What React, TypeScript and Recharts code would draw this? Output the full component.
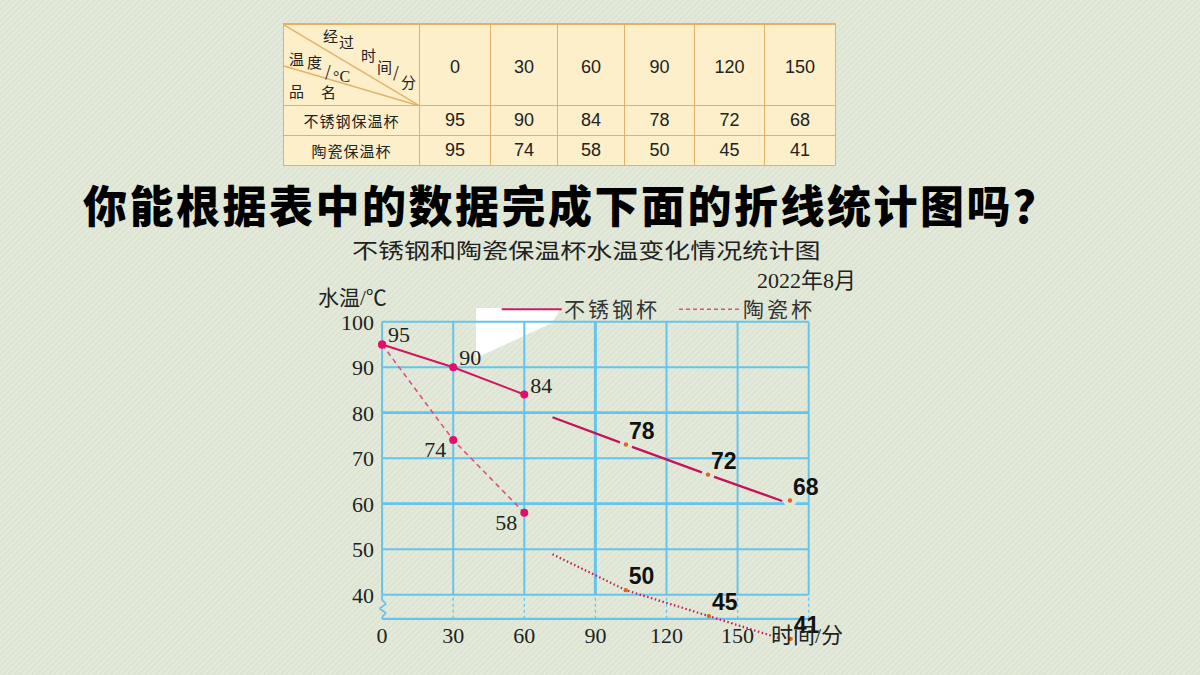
import React from 'react';
import { ComposedChart, Line, Scatter, XAxis, YAxis, ReferenceLine, LabelList } from 'recharts';

// table
const tableTimes = ['0', '30', '60', '90', '120', '150'];
const steelRow = [95, 90, 84, 78, 72, 68];
const ceramicRow = [95, 74, 58, 50, 45, 41];

// axes
const timeTicks = [0, 30, 60, 90, 120, 150];
const gridTimes = [0, 30, 60, 90, 120, 150, 180];
const tempTicks = [40, 50, 60, 70, 80, 90, 100];

// printed part of the chart
const steelX = [0, 30, 60];
const steelY = [95, 90, 84];
const ceramicX = [0, 30, 60];
const ceramicY = [95, 74, 58];

// hand-added continuation, positions
const steelLateLineX = [71.9, 102.9, 137.5, 168.8];
const steelLateLineY = [79.0, 73.0, 66.4, 60.6];
const steelLateDotX = [102.9, 137.5, 172.1];
const steelLateDotY = [73.0, 66.4, 60.7];
const steelLateLabels = ['78', '72', '68'];

const ceramicLateLineX = [71.9, 102.8, 137.9, 167.9];
const ceramicLateLineY = [48.9, 41.0, 35.3, 30.4];
const ceramicLateDotX = [102.8, 137.9, 172.4];
const ceramicLateDotY = [41.0, 35.3, 30.3];
const ceramicLateLabels = ['50', '45', '41'];

// broken axis
const axisBottom = 34.7;
const zigzagX = [0, 0, 1.65, -1.1, 1.65, 0, 0];
const zigzagY = [40, 38.84, 37.96, 36.97, 35.98, 35.1, axisBottom];

const zip = (xs: number[], ys: number[], labels?: string[]) =>
  xs.map((x, i) => ({ x, y: ys[i], label: labels ? labels[i] : '' }));

const steelData = zip(steelX, steelY);
const ceramicData = zip(ceramicX, ceramicY);
const steelLateLine = zip(steelLateLineX, steelLateLineY);
const steelLateDots = zip(steelLateDotX, steelLateDotY, steelLateLabels);
const ceramicLateLine = zip(ceramicLateLineX, ceramicLateLineY);
const ceramicLateDots = zip(ceramicLateDotX, ceramicLateDotY, ceramicLateLabels);

const BG = '#e1e8d7';
const GRID = '#66c4ec';
const SERIF = '"Liberation Serif", "Noto Sans CJK SC", serif';
const CJK = '"Noto Sans CJK SC", sans-serif';
const SANS = '"Liberation Sans", Arial, sans-serif';
const TABLE_LINE = '#e2b066';
const colWidths = [136, 71, 67, 67, 70, 70, 71];

function lateDot(ring: number) {
  return (props: any) => {
    const { cx, cy, payload } = props;
    return (
      <g>
        {ring > 0 && <circle cx={cx} cy={cy} r={ring} fill={BG} />}
        <circle cx={cx} cy={cy} r={2.2} fill="#e2621f" />
        <text x={cx + 3} y={cy - 6} fontFamily={SANS} fontWeight={700} fontSize={23} fill="#111">
          {payload.label}
        </text>
      </g>
    );
  };
}

function DataTable() {
  const cell: React.CSSProperties = {
    border: `1px solid ${TABLE_LINE}`,
    padding: 0,
    textAlign: 'center',
    verticalAlign: 'middle',
    fontFamily: SANS,
    fontSize: 18,
    color: '#222',
  };
  const nameCell: React.CSSProperties = { ...cell, fontFamily: CJK, fontSize: 15, letterSpacing: 1 };
  const head = { fontFamily: CJK, fontSize: 15, fill: '#222' };
  return (
    <table
      style={{
        position: 'absolute',
        left: 283,
        top: 23,
        borderCollapse: 'collapse',
        tableLayout: 'fixed',
        width: 552,
        background: '#fcefca',
        borderTop: `2px solid ${TABLE_LINE}`,
      }}
    >
      <colgroup>
        {colWidths.map((w, i) => (
          <col key={i} style={{ width: w }} />
        ))}
      </colgroup>
      <tbody>
        <tr style={{ height: 81 }}>
          <td style={{ ...cell, position: 'relative' }}>
            <svg width={136} height={81} style={{ position: 'absolute', left: 0, top: 0, display: 'block' }}>
              <line x1={0} y1={0} x2={136} y2={81} stroke={TABLE_LINE} strokeWidth={1.5} />
              <line x1={0} y1={41} x2={136} y2={81} stroke={TABLE_LINE} strokeWidth={1.5} />
              <text x={39} y={17} {...head}>经</text>
              <text x={55} y={23} {...head}>过</text>
              <text x={77} y={36} {...head}>时</text>
              <text x={93} y={48} {...head}>间</text>
              <text x={109} y={53} {...head}>/</text>
              <text x={117} y={63} {...head}>分</text>
              <text x={5} y={40} {...head}>温</text>
              <text x={23} y={43} {...head}>度</text>
              <text x={41} y={52} {...head}>/</text>
              <text x={49} y={57} fontFamily={SERIF} fontSize={16} fill="#222">°C</text>
              <text x={5} y={72} {...head}>品</text>
              <text x={37} y={73} {...head}>名</text>
            </svg>
          </td>
          {tableTimes.map((t) => (
            <td key={t} style={{ ...cell, paddingTop: 6 }}>{t}</td>
          ))}
        </tr>
        <tr style={{ height: 30 }}>
          <td style={nameCell}>不锈钢保温杯</td>
          {steelRow.map((v, i) => (
            <td key={i} style={cell}>{v}</td>
          ))}
        </tr>
        <tr style={{ height: 30 }}>
          <td style={nameCell}>陶瓷保温杯</td>
          {ceramicRow.map((v, i) => (
            <td key={i} style={cell}>{v}</td>
          ))}
        </tr>
      </tbody>
    </table>
  );
}

export default function App() {
  return (
    <div
      style={{
        position: 'absolute',
        left: 0,
        top: 0,
        width: 1200,
        height: 675,
        overflow: 'hidden',
        background: `repeating-linear-gradient(135deg, #e4eadb 0px, #e4eadb 2px, #dde5d2 2px, #dde5d2 4px)`,
      }}
    >
      <DataTable />

      {/* white patch left over on the slide */}
      <svg width={1200} height={675} style={{ position: 'absolute', left: 0, top: 0 }}>
        <polygon points="476,308 561,308 552,323 476,358" fill="#ffffff" />
      </svg>

      <div style={{ position: 'absolute', left: 300, top: 230 }}>
        <ComposedChart width={580} height={440} margin={{ top: 91.7, right: 71.3, bottom: 1.6, left: 32.1 }}>
          <XAxis
            dataKey="x"
            type="number"
            domain={[0, 180]}
            ticks={timeTicks}
            axisLine={false}
            tickLine={false}
            tickSize={0}
            tickMargin={0}
            height={10}
            interval={0}
            tick={(p: any) => (
              <text x={p.x} y={p.y - 15.4} textAnchor="middle" fontFamily={SERIF} fontSize={22} fill="#222">
                {p.payload.value}
              </text>
            )}
          />
          <YAxis
            dataKey="y"
            type="number"
            domain={[26, 100]}
            ticks={tempTicks}
            axisLine={false}
            tickLine={false}
            width={50}
            interval={0}
            tick={{ fontFamily: SERIF, fontSize: 22, fill: '#222' }}
          />

          {tempTicks.map((t) => (
            <ReferenceLine
              key={'h' + t}
              segment={[{ x: 0, y: t }, { x: 180, y: t }]}
              stroke={GRID}
              strokeWidth={t === 80 || t === 60 ? 2.8 : 2}
              ifOverflow="visible"
            />
          ))}
          {gridTimes.map((t) => (
            <ReferenceLine
              key={'v' + t}
              segment={[{ x: t, y: 40 }, { x: t, y: 100 }]}
              stroke={GRID}
              strokeWidth={t === 90 ? 3 : 2}
              ifOverflow="visible"
            />
          ))}
          {gridTimes.slice(1).map((t) => (
            <ReferenceLine
              key={'d' + t}
              segment={[{ x: t, y: axisBottom }, { x: t, y: 40 }]}
              stroke={GRID}
              strokeWidth={1.3}
              strokeDasharray="3 3"
              ifOverflow="visible"
            />
          ))}
          <ReferenceLine
            segment={[{ x: 0, y: axisBottom }, { x: 180, y: axisBottom }]}
            stroke={GRID}
            strokeWidth={2.2}
            ifOverflow="visible"
          />
          {zigzagX.slice(1).map((x, i) => (
            <ReferenceLine
              key={'z' + i}
              segment={[{ x: zigzagX[i], y: zigzagY[i] }, { x, y: zigzagY[i + 1] }]}
              stroke={GRID}
              strokeWidth={1.8}
              ifOverflow="visible"
            />
          ))}

          <Line
            data={ceramicData}
            dataKey="y"
            type="linear"
            stroke="#e24c86"
            strokeWidth={1.6}
            strokeDasharray="5 4"
            dot={{ r: 4, fill: '#e0106a', stroke: 'none' }}
            isAnimationActive={false}
          >
            <LabelList
              dataKey="y"
              content={(p: any) =>
                p.index === 0 ? null : (
                  <text x={p.x - 7} y={p.y + 17} textAnchor="end" fontFamily={SERIF} fontSize={22} fill="#222">
                    {p.value}
                  </text>
                )
              }
            />
          </Line>
          <Line
            data={steelData}
            dataKey="y"
            type="linear"
            stroke="#d3145f"
            strokeWidth={2}
            dot={{ r: 4, fill: '#e0106a', stroke: 'none' }}
            isAnimationActive={false}
          >
            <LabelList
              dataKey="y"
              content={(p: any) => (
                <text x={p.x + 6} y={p.y - 2} fontFamily={SERIF} fontSize={22} fill="#222">
                  {p.value}
                </text>
              )}
            />
          </Line>

          <Line
            data={steelLateLine}
            dataKey="y"
            type="linear"
            stroke="#c7125a"
            strokeWidth={2.3}
            dot={false}
            isAnimationActive={false}
          />
          <Line
            data={ceramicLateLine}
            dataKey="y"
            type="linear"
            stroke="#c41a58"
            strokeWidth={2.2}
            strokeDasharray="1.5 2.5"
            dot={false}
            isAnimationActive={false}
          />
          <Scatter data={steelLateDots} dataKey="y" shape={lateDot(6.5)} isAnimationActive={false} />
          <Scatter data={ceramicLateDots} dataKey="y" shape={lateDot(0)} isAnimationActive={false} />
        </ComposedChart>
      </div>

      <svg width={1200} height={675} style={{ position: 'absolute', left: 0, top: 0, pointerEvents: 'none' }}>
        <text x={83} y={223} fontFamily={CJK} fontWeight={900} fontSize={44} letterSpacing={2.5} fill="#000">
          你能根据表中的数据完成下面的折线统计图吗？
        </text>
        <text
          transform="translate(352,258) scale(1.24,1)"
          x={0}
          y={0}
          fontFamily={CJK}
          fontSize={21}
          fill="#222"
        >
          不锈钢和陶瓷保温杯水温变化情况统计图
        </text>
        <text x={757} y={288} fontFamily={SERIF} fontSize={22} fill="#222">2022年8月</text>
        <text x={318} y={305} fontFamily={SERIF} fontSize={21} fill="#222">水温/℃</text>
        <line x1={501.7} y1={309.3} x2={561.7} y2={309.3} stroke="#d3145f" strokeWidth={2} />
        <text x={564} y={317} fontFamily={CJK} fontSize={21} letterSpacing={3} fill="#333">不锈钢杯</text>
        <line x1={679} y1={309.3} x2={740} y2={309.3} stroke="#e24c86" strokeWidth={1.5} strokeDasharray="4 3" />
        <text x={743} y={317} fontFamily={CJK} fontSize={21} letterSpacing={3} fill="#333">陶瓷杯</text>
        <text x={771} y={643} fontFamily={SERIF} fontSize={22} fill="#222">时间/分</text>
      </svg>
    </div>
  );
}
